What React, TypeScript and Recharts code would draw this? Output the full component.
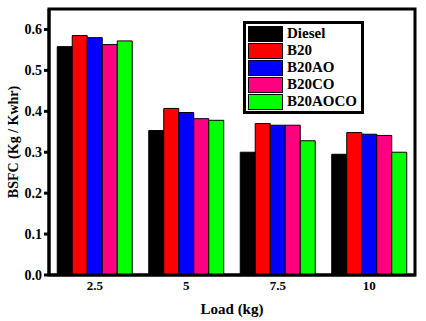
import React from 'react';
import { BarChart, Bar, XAxis, YAxis, Legend, ReferenceArea } from 'recharts';

const loads = ['2.5', '5', '7.5', '10'];
const diesel = [0.558, 0.353, 0.300, 0.295];
const b20 = [0.585, 0.407, 0.370, 0.348];
const b20ao = [0.580, 0.397, 0.366, 0.344];
const b20co = [0.563, 0.382, 0.366, 0.341];
const b20aoco = [0.572, 0.378, 0.328, 0.300];
const yTicks = [0, 0.1, 0.2, 0.3, 0.4, 0.5, 0.6];

const series = [
  { key: 'Diesel', values: diesel, color: '#000000' },
  { key: 'B20', values: b20, color: '#ff0000' },
  { key: 'B20AO', values: b20ao, color: '#0000ff' },
  { key: 'B20CO', values: b20co, color: '#ff0080' },
  { key: 'B20AOCO', values: b20aoco, color: '#00ff00' },
];

const data = loads.map((load, i) => {
  const row: Record<string, string | number> = { load };
  series.forEach(s => { row[s.key] = s.values[i]; });
  return row;
});

const font = '"Liberation Serif", "Times New Roman", serif';

function LegendBox() {
  return (
    <div style={{ border: '3px solid #000', background: '#fff', padding: '1px 4px 1px 2px', fontFamily: font, fontWeight: 'bold', fontSize: 15, textAlign: 'left' }}>
      {series.map(s => (
        <div key={s.key} style={{ display: 'flex', alignItems: 'center', height: 17 }}>
          <div style={{ width: 33, height: 14, background: s.color, border: '1px solid #000', marginRight: 4 }} />
          <span style={{ lineHeight: '17px' }}>{s.key}</span>
        </div>
      ))}
    </div>
  );
}

export default function App() {
  return (
    <div style={{ position: 'absolute', left: 0, top: 0, width: 426, height: 321, background: '#fff', fontFamily: font, fontWeight: 'bold' }}>
      <BarChart width={426} height={321} data={data} margin={{ top: 9, right: 11, bottom: 0, left: 0 }} barCategoryGap="9%" barGap={0} style={{ fontFamily: font, fontWeight: 'bold' }}>
        <XAxis
          dataKey="load"
          height={46}
          stroke="#000"
          strokeWidth={3}
          tickLine={false}
          tick={{ fill: '#000', fontSize: 13, dy: -2, style: { fontFamily: font, fontWeight: 'bold' } }}
          label={{ value: 'Load (kg)', position: 'insideBottom', offset: 7, fill: '#000', fontSize: 15, style: { fontFamily: font, fontWeight: 'bold' } }}
        />
        <YAxis
          width={49}
          domain={[0, 0.65]}
          ticks={yTicks}
          tickFormatter={(v: number) => v.toFixed(1)}
          stroke="#000"
          strokeWidth={3}
          tickSize={5}
          tick={{ fill: '#000', fontSize: 14, style: { fontFamily: font, fontWeight: 'bold' } }}
          label={{ value: 'BSFC (Kg / Kwhr)', angle: -90, position: 'insideLeft', offset: 13, fill: '#000', fontSize: 14, style: { textAnchor: 'middle', fontFamily: font, fontWeight: 'bold' } }}
        />
        <Legend
          layout="vertical"
          align="center"
          verticalAlign="middle"
          content={() => <LegendBox />}
          wrapperStyle={{ position: 'absolute', left: 243, top: 21, width: 'auto', height: 'auto' }}
        />
        {series.map(s => (
          <Bar key={s.key} dataKey={s.key} fill={s.color} stroke="#000" strokeWidth={1} isAnimationActive={false} />
        ))}
        <ReferenceArea x1="2.5" x2="10" y1={0} y2={0.65} fill="none" stroke="#000" strokeWidth={3} ifOverflow="visible" />
      </BarChart>
    </div>
  );
}
